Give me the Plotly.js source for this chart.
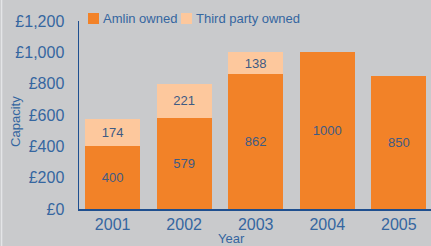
<!DOCTYPE html>
<html>
<head>
<meta charset="utf-8">
<script src="https://cdn.plot.ly/plotly-3.0.1.min.js"></script>
<style>
html,body{margin:0;padding:0;background:#c9cacc;}
#chart{width:431px;height:246px;}
</style>
</head>
<body>
<div id="chart"></div>
<script>
const years = ['2001', '2002', '2003', '2004', '2005'];
const amlinOwned = [400, 579, 862, 1000, 850];
const thirdPartyOwned = [174, 221, 138, 0, 0];
const seriesNames = ['Amlin owned', 'Third party owned'];
const seriesColors = ['#f28228', '#fdc89d'];
const yTickVals = [0, 200, 400, 600, 800, 1000, 1200];
const yTickText = ['£0', '£200', '£400', '£600', '£800', '£1,000', '£1,200'];

const blueText = '#3566a0';
const labelColor = '#3f5b84';
const FONT = 'Liberation Sans, Arial, sans-serif';

const traces = [amlinOwned, thirdPartyOwned].map((vals, i) => ({
  type: 'bar', name: seriesNames[i], x: years, y: vals,
  text: vals.map(v => v > 0 ? String(v) : ''),
  textposition: 'inside', insidetextanchor: 'middle', textangle: 0,
  textfont: {family: FONT, size: 13, color: labelColor},
  marker: {color: seriesColors[i], line: {width: 0}},
  hoverinfo: 'none', showlegend: false
}));

// manual legend (paper coords relative to plot area)
const legendSquares = [[0.0256, 0.0568], [0.2898, 0.321]];
const legendTextX = [0.0625, 0.3267];
const shapes = legendSquares.map((s, i) => ({
  type: 'rect', xref: 'paper', yref: 'paper', x0: s[0], x1: s[1], y0: 0.984, y1: 1.0426,
  fillcolor: seriesColors[i], line: {width: 0}
}));
shapes.push({type: 'line', xref: 'paper', yref: 'paper', x0: -0.22, x1: -0.22, y0: -0.2, y1: 1.12,
  line: {color: '#e4e5e7', width: 1.5}, layer: 'below'});

const annotations = seriesNames.map((n, i) => ({
  text: n, xref: 'paper', yref: 'paper', x: legendTextX[i], y: 1.0133,
  xanchor: 'left', yanchor: 'middle', showarrow: false,
  font: {size: 13, color: blueText}
}));
annotations.push({text: 'Year', xref: 'paper', yref: 'paper', x: 0.432, y: -0.155,
  xanchor: 'center', yanchor: 'middle', showarrow: false,
  font: {size: 13, color: blueText}});
annotations.push({text: 'Capacity', xref: 'paper', yref: 'paper', x: -0.182, y: 0.468,
  xanchor: 'center', yanchor: 'middle', textangle: -90, showarrow: false,
  font: {size: 13, color: blueText}});

const layout = {
  width: 431, height: 246,
  margin: {l: 79, r: 0, t: 21, b: 37, pad: 0},
  paper_bgcolor: '#c9cacc', plot_bgcolor: '#c9cacc',
  barmode: 'stack', bargap: 0.23,
  font: {family: FONT, color: blueText},
  showlegend: false,
  xaxis: {
    type: 'category', range: [-0.47, 4.45],
    showline: true, linecolor: '#1f4f8f', linewidth: 1.5,
    ticks: '', showgrid: false, zeroline: false,
    tickfont: {size: 16, color: blueText}, fixedrange: true
  },
  yaxis: {
    range: [0, 1200], tickvals: yTickVals, ticktext: yTickText,
    showline: true, linecolor: '#1f4f8f', linewidth: 1.5,
    ticks: '', ticklabelstandoff: 10, showgrid: false, zeroline: false,
    tickfont: {size: 16, color: blueText},
    fixedrange: true
  },
  annotations: annotations,
  shapes: shapes
};

Plotly.newPlot('chart', traces, layout, {displayModeBar: false, staticPlot: true});
</script>
</body>
</html>
